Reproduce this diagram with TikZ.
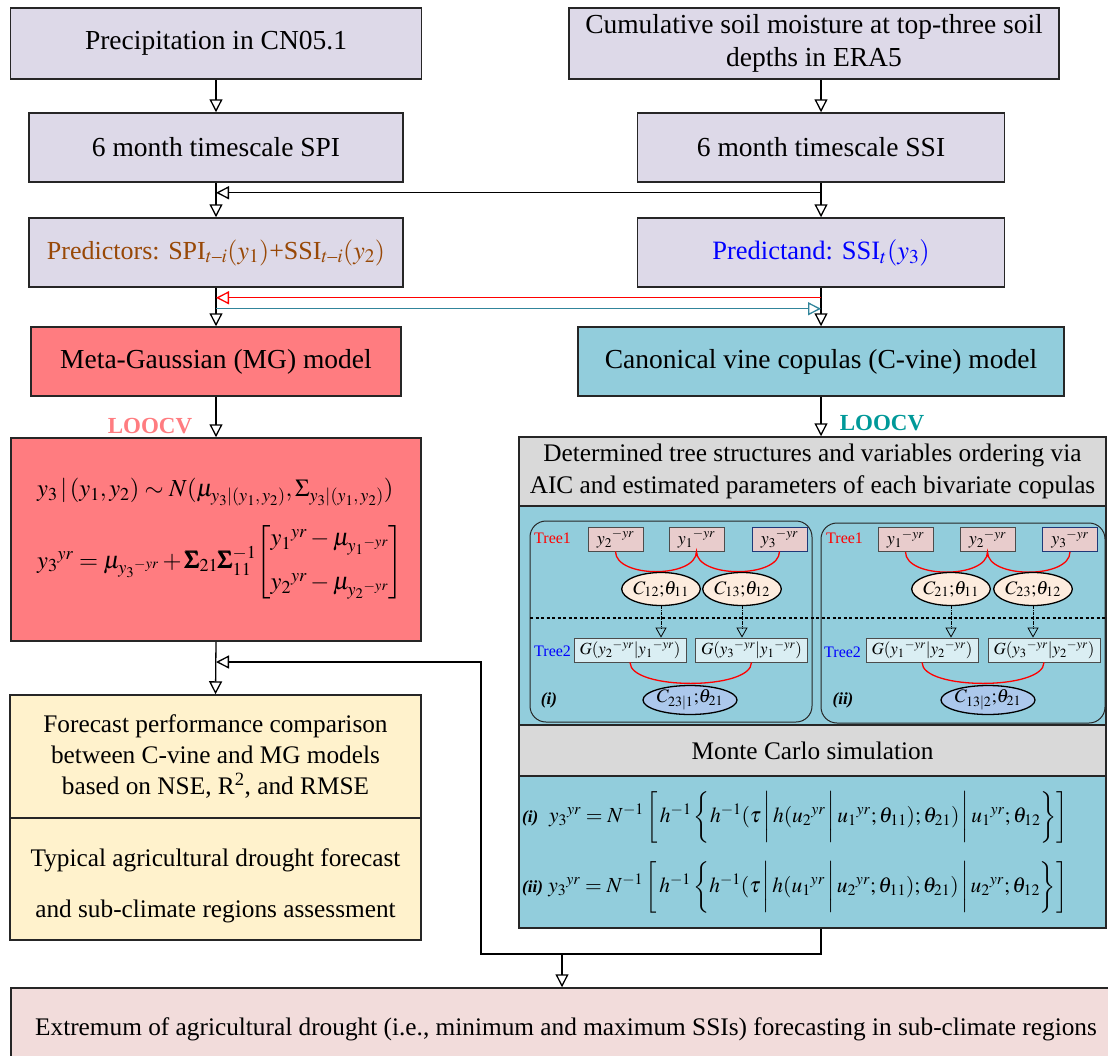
\documentclass[tikz,border=0pt]{standalone}
\usepackage{amsmath}
\usepackage{mathptmx}
\usepackage[no-math]{fontspec}
\setmainfont{Liberation Serif}
\usetikzlibrary{arrows.meta,calc,shapes.geometric}
\definecolor{lav}{RGB}{221,217,232}
\definecolor{mgred}{RGB}{255,124,128}
\definecolor{cvb}{RGB}{146,205,220}
\definecolor{gry}{RGB}{217,217,217}
\definecolor{yel}{RGB}{255,242,204}
\definecolor{pnk}{RGB}{242,220,219}
\definecolor{brn}{RGB}{152,72,6}
\definecolor{tealL}{RGB}{0,153,153}
\definecolor{tealA}{RGB}{49,133,155}
\definecolor{tonefill}{RGB}{232,204,204}
\definecolor{ttwofill}{RGB}{218,238,243}
\definecolor{eonefill}{RGB}{253,236,222}
\definecolor{etwofill}{RGB}{172,200,236}
\definecolor{navy}{RGB}{31,56,120}
\newcommand\fsbig{\fontsize{27.5}{33}\selectfont}
\newcommand\fsmid{\fontsize{25.3}{32}\selectfont}
\newcommand\fsloo{\fontsize{23}{27}\selectfont}
\newcommand\fstree{\fontsize{16}{19}\selectfont}
\newcommand\fsnode{\fontsize{18}{22}\selectfont}
\newcommand\fsnodeb{\fontsize{17}{20}\selectfont}
\newcommand\fsnodec{\fontsize{19}{22}\selectfont}
\newcommand\fsform{\fontsize{24.5}{30}\selectfont}
\newcommand\fsformb{\fontsize{21.5}{26}\selectfont}
\newcommand\fslab{\fontsize{17}{20}\selectfont}
\newcommand\ystr{\rule[-15pt]{0pt}{42pt}}
\begin{document}
\begin{tikzpicture}[x=1pt,y=-1pt,
  box/.style={draw=black!85, line width=1.5pt, align=center, inner sep=0pt},
  arr/.style={line width=1.3pt, -{Triangle[open,length=13pt,width=13pt]}},
  tonebox/.style={draw=black!70, line width=0.8pt, fill=tonefill, minimum width=55pt, minimum height=24pt, inner sep=0pt, font=\fsnode},
  ttwobox/.style={draw=black!70, line width=0.8pt, fill=ttwofill, minimum width=112pt, minimum height=24pt, inner sep=0pt, font=\fsnodeb},
  elone/.style={ellipse, draw=black, line width=1.3pt, fill=eonefill, minimum width=73pt, minimum height=33pt, inner sep=0pt, font=\fsnodec},
  eltwo/.style={ellipse, draw=black, line width=1.3pt, fill=etwofill, minimum width=93pt, minimum height=28pt, inner sep=0pt, font=\fsnodec},
  redarc/.style={red, line width=1.3pt},
  darr/.style={densely dashdotted, line width=0.8pt, -{Triangle[open,length=10pt,width=11pt]}},
  panel/.style={draw=black!85, line width=1pt, rounded corners=16pt}
]
\useasboundingbox (0,0) rectangle (1108,1055);
\fill[white] (0,0) rectangle (1108,1055);

% top flow boxes
\node[box,fill=lav,minimum width=411pt,minimum height=71pt,font=\fsbig] (A) at (216,43.5) {Precipitation in CN05.1};
\node[box,fill=lav,minimum width=490pt,minimum height=71pt,font=\fsbig] (B) at (814,43.5) {Cumulative soil moisture at top-three soil\\depths in ERA5};
\node[box,fill=lav,minimum width=374pt,minimum height=69pt,font=\fsbig] (C) at (216,147.5) {6 month timescale SPI};
\node[box,fill=lav,minimum width=367pt,minimum height=69pt,font=\fsbig] (D) at (821,147.5) {6 month timescale SSI};
\node[box,fill=lav,minimum width=374pt,minimum height=69pt,font=\fontsize{26}{30}\selectfont,text=brn] (E) at (216,252.5) {Predictors: SPI$_{t\text{--}i}(y_1)$+SSI$_{t\text{--}i}(y_2)$};
\node[box,fill=lav,minimum width=367pt,minimum height=69pt,font=\fontsize{26.5}{30}\selectfont,text=blue] (F) at (821,252.5) {Predictand: SSI$_t(y_3)$};
\node[box,fill=mgred,minimum width=370pt,minimum height=69pt,font=\fsbig] (G) at (216,361.5) {Meta-Gaussian (MG) model};
\node[box,fill=cvb,minimum width=486pt,minimum height=69pt,font=\fsbig] (H) at (821,361.5) {Canonical vine copulas (C-vine) model};

% MG formula box
\node[box,fill=mgred,minimum width=410pt,minimum height=203pt] (I) at (216,539.5) {};
\node[anchor=west,font=\fsform,inner sep=0pt] (Ia) at (37,492) {$y_3\,|\,(y_1, y_2) \sim N(\mu_{y_3|(y_1,\,y_2)},\Sigma_{y_3|(y_1,\,y_2)})$};
\node[anchor=west,font=\fsform,inner sep=0pt] (Ib) at (37,562) {${y_3}^{yr} = \mu_{{y_3}^{-yr}} + \pmb{\Sigma}_{21}\pmb{\Sigma}_{11}^{-1}\!\begin{bmatrix} {y_1}^{yr}-\mu_{{y_1}^{-yr}}\\[14pt] {y_2}^{yr}-\mu_{{y_2}^{-yr}}\end{bmatrix}$};

% C-vine column
\node[box,fill=gry,minimum width=587pt,minimum height=69pt,font=\fsmid] (J1) at (812.5,471.5) {Determined tree structures and variables ordering via\\AIC and estimated parameters of each bivariate copulas};
\node[box,fill=cvb,minimum width=587pt,minimum height=219pt] (J2) at (812.5,615.5) {};
\node[box,fill=gry,minimum width=587pt,minimum height=51pt,font=\fsmid] (J3) at (812.5,750.5) {Monte Carlo simulation};
\node[box,fill=cvb,minimum width=587pt,minimum height=152pt] (J4) at (812.5,852) {};

% panels
\draw[panel] (530,521) rectangle (812,722);
\draw[panel] (821,523) rectangle (1105,723);
\draw[line width=1.3pt, dash pattern=on 3pt off 2.5pt] (530,618) -- (1105,618);

% panel (i)
\node[anchor=west,red,font=\fstree,inner sep=0pt] (at1) at (534,538) {Tree1};
\node[anchor=west,blue,font=\fstree,inner sep=0pt] (at2) at (534,651) {Tree2};
\node[tonebox] (ay2) at (615.5,539) {${y_2}^{-yr}$};
\node[tonebox] (ay1) at (696.5,539) {${y_1}^{-yr}$};
\node[tonebox,draw=navy] (ay3) at (779.5,539) {${y_3}^{-yr}$};
\draw[redarc] (ay2.south) .. controls +(0,27) and +(0,27) .. (ay1.south) .. controls +(0,27) and +(0,27) .. (ay3.south);
\node[elone] (ac12) at (661,589) {$C_{12}{;}\theta_{11}$};
\node[elone] (ac13) at (742,589) {$C_{13}{;}\theta_{12}$};
\node[ttwobox] (ag1) at (630,650) {$G({y_2}^{-yr}|{y_1}^{-yr})$};
\node[ttwobox] (ag2) at (751.5,650) {$G({y_3}^{-yr}|{y_1}^{-yr})$};
\draw[darr] (ac12.south) -- (ac12.south |- ag1.north);
\draw[darr] (ac13.south) -- (ac13.south |- ag2.north);
\draw[redarc] (ag1.south) .. controls +(0,28) and +(0,28) .. (ag2.south);
\node[eltwo] (ac231) at (690,700) {$C_{23|1}{;}\theta_{21}$};
\node[font=\fslab] (ali) at (549,700) {\textbf{\textit{(i)}}};

% panel (ii)
\node[anchor=west,red,font=\fstree,inner sep=0pt] (bt1) at (826,538) {Tree1};
\node[anchor=west,blue,font=\fstree,inner sep=0pt] (bt2) at (824,652) {Tree2};
\node[tonebox] (by1) at (905.5,539.5) {${y_1}^{-yr}$};
\node[tonebox] (by2) at (987.5,539.5) {${y_2}^{-yr}$};
\node[tonebox,draw=navy] (by3) at (1070,539.5) {${y_3}^{-yr}$};
\draw[redarc] (by1.south) .. controls +(0,27) and +(0,27) .. (by2.south) .. controls +(0,27) and +(0,27) .. (by3.south);
\node[elone] (bc21) at (951,589) {$C_{21}{;}\theta_{11}$};
\node[elone] (bc23) at (1033,589) {$C_{23}{;}\theta_{12}$};
\node[ttwobox] (bg1) at (922,650) {$G({y_1}^{-yr}|{y_2}^{-yr})$};
\node[ttwobox] (bg2) at (1044,650) {$G({y_3}^{-yr}|{y_2}^{-yr})$};
\draw[darr] (bc21.south) -- (bc21.south |- bg1.north);
\draw[darr] (bc23.south) -- (bc23.south |- bg2.north);
\draw[redarc] (bg1.south) .. controls +(0,28) and +(0,28) .. (bg2.south);
\node[eltwo] (bc132) at (988,700) {$C_{13|2}{;}\theta_{21}$};
\node[font=\fslab] (bli) at (843,700) {\textbf{\textit{(ii)}}};

% Monte Carlo formulas
\node[anchor=west,font=\fsformb,inner sep=0pt] (Ja) at (522,817) {{\fslab\textbf{\textit{(i)}}}\ \ ${y_3}^{yr} = N^{-1}\left[\,h^{-1}\left\{\ystr h^{-1}(\tau\,\middle|\,h({u_2}^{yr}\,\middle|\,{u_1}^{yr}{;}\,\theta_{11}){;}\,\theta_{21})\,\middle|\,{u_1}^{yr}{;}\,\theta_{12}\right\}\right]$};
\node[anchor=west,font=\fsformb,inner sep=0pt] (Jb) at (522,887) {{\fslab\textbf{\textit{(ii)}}}\ ${y_3}^{yr} = N^{-1}\left[\,h^{-1}\left\{\ystr h^{-1}(\tau\,\middle|\,h({u_1}^{yr}\,\middle|\,{u_2}^{yr}{;}\,\theta_{11}){;}\,\theta_{21})\,\middle|\,{u_2}^{yr}{;}\,\theta_{12}\right\}\right]$};

% lower left boxes
\node[box,fill=yel,minimum width=411pt,minimum height=123pt,font=\fsmid] (K1) at (215.5,756.5) {Forecast performance comparison\\[-1pt]between C-vine and MG models\\[-1pt]based on NSE, R\textsuperscript{2}, and RMSE};
\node[box,fill=yel,minimum width=411pt,minimum height=122pt] (K2) at (215.5,879) {};
\node[font=\fsmid,align=center,inner sep=0pt] (K2t) at (215.5,886) {Typical agricultural drought forecast\\[19pt]and sub-climate regions assessment};

% bottom box
\begin{scope}
\clip (0,0) rectangle (1108,1055);
\node[box,fill=pnk,minimum width=1110pt,minimum height=82pt,font=\fsmid] (L) at (566,1029) {Extremum of agricultural drought (i.e., minimum and maximum SSIs) forecasting in sub-climate regions};
\end{scope}

% labels
\node[font=\fsloo\bfseries,text=mgred] (loo1) at (150,426) {LOOCV};
\node[font=\fsloo\bfseries,text=tealL] (loo2) at (882,423) {LOOCV};

% connectors
\draw[arr] (A.south -| C.north) -- (C.north);
\draw[arr] (B.south -| D.north) -- (D.north);
\draw[arr] (C.south) -- (E.north);
\draw[arr] (D.south) -- (F.north);
\draw[arr] ($(D.south)+(0,10)$) -- ($(C.south)+(0,10)$);
\draw[arr] (E.south) -- (G.north);
\draw[arr] (F.south) -- (H.north);
\draw[arr,red] ($(F.south)+(0,10)$) -- ($(E.south)+(0,10)$);
\draw[arr,tealA] ($(E.south)+(0,21)$) -- ($(F.south)+(0,21)$);
\draw[arr] (G.south) -- (I.north);
\draw[arr] (H.south) -- (H.south |- J1.north);
\draw[arr] (I.south) -- (K1.north);
\coordinate (r1) at (481,954);
\coordinate (r2) at (481,662);
\coordinate (r3) at (562,954);
\draw[arr] (J4.south -| H.south) |- (r1) -- (r2) -- (r2 -| I.south);
\draw[arr] (r3) -- (r3 |- L.north);
\end{tikzpicture}
\end{document}
